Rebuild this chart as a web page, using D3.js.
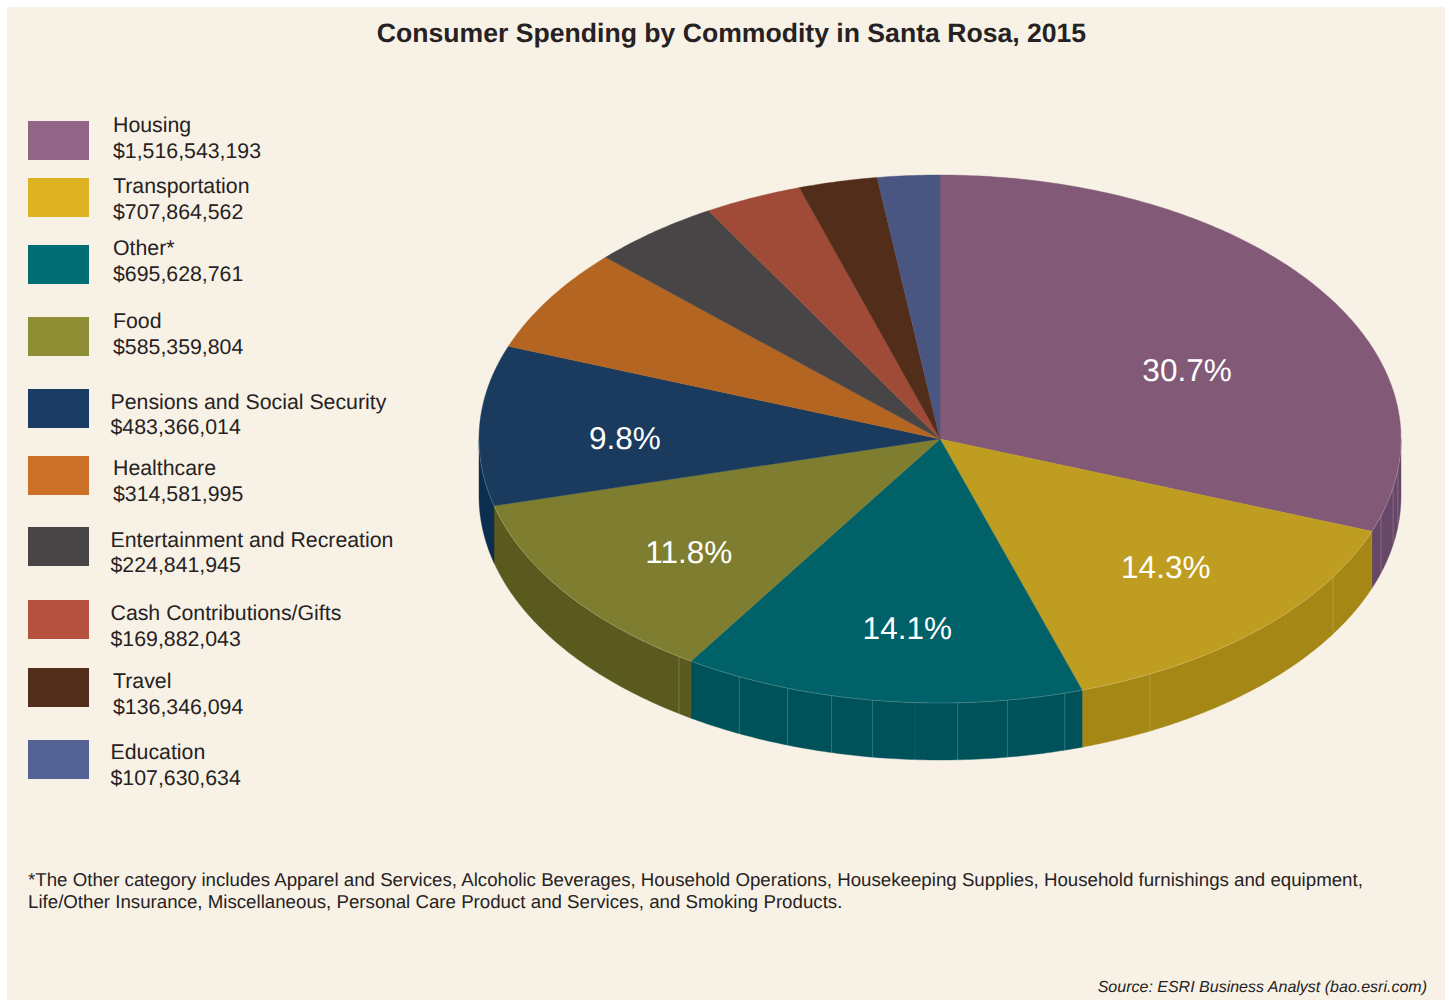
<!DOCTYPE html>
<html>
<head>
<meta charset="utf-8">
<script src="https://cdn.jsdelivr.net/npm/d3@7/dist/d3.min.js"></script>
<style>
  html, body { margin: 0; padding: 0; background: #ffffff; }
  svg { display: block; }
  text { font-family: "Liberation Sans", Arial, sans-serif; fill: #262223; text-rendering: geometricPrecision; }
</style>
</head>
<body>
<svg id="chart" width="1449" height="1001"></svg>
<script>
// Spending figures, in dollars
const categories = ["Housing", "Transportation", "Other*", "Food", "Pensions and Social Security",
  "Healthcare", "Entertainment and Recreation", "Cash Contributions/Gifts", "Travel", "Education"];
const spending = [1516543193, 707864562, 695628761, 585359804, 483366014,
  314581995, 224841945, 169882043, 136346094, 107630634];

// Colours per category: legend swatch, pie top, pie wall
const swatchColors = ["#926486", "#DDB324", "#006E72", "#8E8E35", "#1C3D63",
  "#CD702A", "#474546", "#B5523F", "#542E1C", "#556295"];
const topColors = ["#825A77", "#BF9D20", "#006168", "#7F7E30", "#1A3B5E",
  "#B46522", "#474546", "#A04B37", "#522D1A", "#4A5682"];
const wallColors = ["#664767", "#A58716", "#00525A", "#5A5A1E", "#0B2D4E",
  "#8F4F1A", "#333132", "#7F3A2A", "#3E2113", "#384266"];

// Facet seams on the pie wall, in degrees clockwise from twelve o'clock
const seamDegrees = [96.7, 100.6, 106.9, 121.5, 152.9, 164.3, 171.6, 177.8, 188.4, 193.6, 199.3, 205.8, 214.5];
const faintSeamDegrees = [131.4, 183.1];

// Only the five largest slices carry a percentage; the nudges keep them clear of the centre
const labelledSlices = [0, 1, 2, 3, 4];
const labelNudges = [[-10.5, 33], [9, -2], [7.5, 11], [2.5, 8], [-2, 8]];

// Legend layout, one row per category
const swatchTops = [121, 178, 245, 317, 389, 456, 527, 600, 668, 740];
const nameBaselines = [132, 193, 255, 328, 409, 475, 547, 620, 688, 759];
const valueBaselines = [158, 219, 281, 354, 434, 501, 572, 646, 714, 785];
const textLefts = [113, 113, 113, 113, 110.5, 113, 110.5, 110.5, 113, 110.5];

const titleText = "Consumer Spending by Commodity in Santa Rosa, 2015";
const footnoteLines = [
  "*The Other category includes Apparel and Services, Alcoholic Beverages, Household Operations, Housekeeping Supplies, Household furnishings and equipment,",
  "Life/Other Insurance, Miscellaneous, Personal Care Product and Services, and Smoking Products."
];
const sourceText = "Source: ESRI Business Analyst (bao.esri.com)";

const svg = d3.select("#chart");

svg.append("rect").attr("x", 7).attr("y", 7).attr("width", 1438).attr("height", 993).attr("fill", "#F8F2E6");

// Pie geometry: a tilted disc drawn as an ellipse with a vertical wall
const cx = 940, cy = 439, rx = 461, ry = 264, depth = 57;
const total = d3.sum(spending);
const slices = d3.pie().sort(null).value(d => d)(spending);
const px = a => cx + rx * Math.sin(a);
const py = (a, drop = 0) => cy - ry * Math.cos(a) + drop;
const rad = d3.scaleLinear().domain([0, 360]).range([0, 2 * Math.PI]);
const pathLine = d3.line();

function arcPoints(a0, a1, drop = 0) {
  const n = Math.max(2, Math.ceil((a1 - a0) / 0.01));
  return d3.range(n + 1).map(i => {
    const a = a0 + (a1 - a0) * i / n;
    return [px(a), py(a, drop)];
  });
}

// Walls exist only on the front half of the disc
const walls = svg.append("g");
slices.forEach((s, i) => {
  const a0 = Math.max(s.startAngle, Math.PI / 2);
  const a1 = Math.min(s.endAngle, 3 * Math.PI / 2);
  if (a1 <= a0) return;
  const outline = arcPoints(a0, a1).concat(arcPoints(a0, a1, depth).reverse());
  walls.append("path").attr("d", pathLine(outline) + "Z").attr("fill", wallColors[i])
    .attr("stroke", wallColors[i]).attr("stroke-width", 0.4);
});

const drawSeams = (degrees, opacity) => walls.selectAll(null).data(degrees).join("line")
  .attr("x1", d => px(rad(d))).attr("x2", d => px(rad(d)))
  .attr("y1", d => py(rad(d))).attr("y2", d => py(rad(d), depth))
  .attr("stroke", "#ffffff").attr("stroke-opacity", opacity).attr("stroke-width", 1);
drawSeams(seamDegrees, 0.2);
drawSeams(faintSeamDegrees, 0.05);

// Top face
const topFace = svg.append("g");
slices.forEach((s, i) => {
  const outline = [[cx, cy]].concat(arcPoints(s.startAngle, s.endAngle));
  topFace.append("path").attr("d", pathLine(outline) + "Z").attr("fill", topColors[i])
    .attr("stroke", topColors[i]).attr("stroke-width", 0.4);
});

// Soft highlight along the rim
topFace.append("path")
  .attr("d", pathLine(arcPoints(Math.PI / 2 - 0.02, 3 * Math.PI / 2)))
  .attr("fill", "none").attr("stroke", "#ffffff").attr("stroke-opacity", 0.22).attr("stroke-width", 0.8);

// Percentage labels
const pct = d3.format(".1%");
const labelRadius = 0.68;
svg.append("g").selectAll("text").data(labelledSlices).join("text")
  .attr("x", i => { const m = (slices[i].startAngle + slices[i].endAngle) / 2;
    return cx + labelRadius * rx * Math.sin(m) + labelNudges[i][0]; })
  .attr("y", i => { const m = (slices[i].startAngle + slices[i].endAngle) / 2;
    return cy - labelRadius * ry * Math.cos(m) + labelNudges[i][1]; })
  .attr("dy", "0.35em").attr("text-anchor", "middle").attr("font-size", 31.5)
  .style("fill", "#ffffff")
  .text(i => pct(spending[i] / total));

// Title
svg.append("text").attr("x", 731.5).attr("y", 42).attr("text-anchor", "middle")
  .attr("font-size", 26.6).attr("font-weight", "bold").text(titleText);

// Legend
const money = d3.format("$,");
const legend = svg.append("g").selectAll("g").data(categories).join("g");
legend.append("rect").attr("x", 28).attr("y", (d, i) => swatchTops[i])
  .attr("width", 61).attr("height", 39).attr("fill", (d, i) => swatchColors[i]);
legend.append("text").attr("x", (d, i) => textLefts[i]).attr("y", (d, i) => nameBaselines[i])
  .attr("font-size", 21.3).text(d => d);
legend.append("text").attr("x", (d, i) => textLefts[i]).attr("y", (d, i) => valueBaselines[i])
  .attr("font-size", 21.3).text((d, i) => money(spending[i]));

// Footnote and source
svg.append("g").selectAll("text").data(footnoteLines).join("text")
  .attr("x", 28).attr("y", (d, i) => 886 + i * 22).attr("font-size", 18.7).text(d => d);
svg.append("text").attr("x", 1427).attr("y", 992).attr("text-anchor", "end")
  .attr("font-size", 16).attr("font-style", "italic").text(sourceText);
</script>
</body>
</html>
